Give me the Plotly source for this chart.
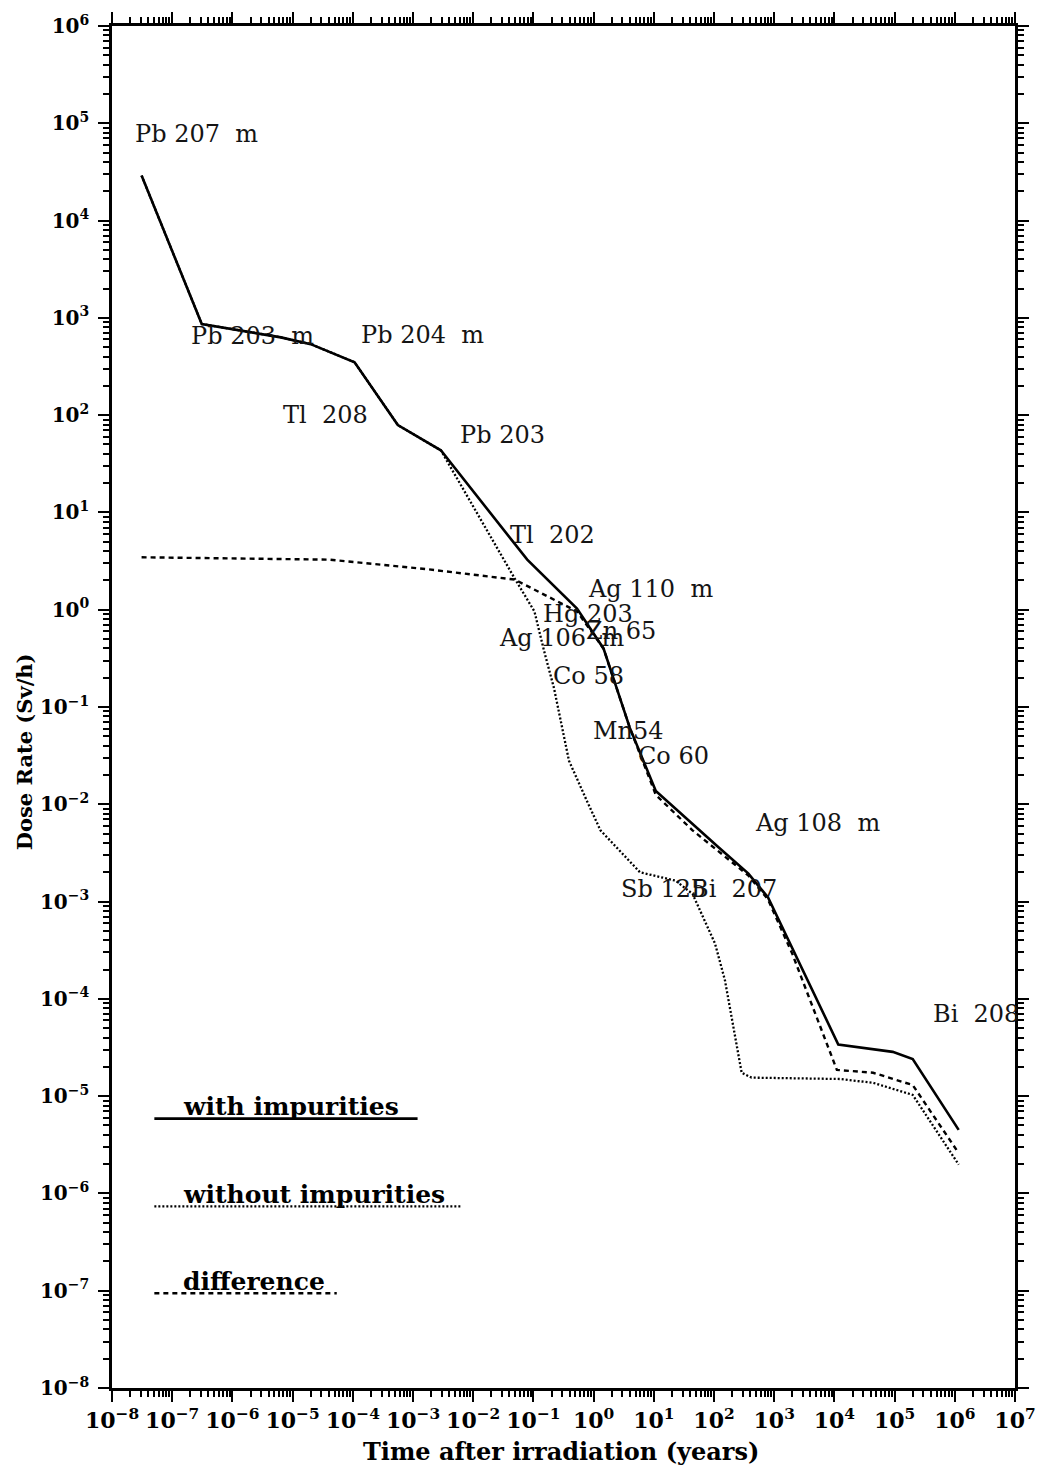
import plotly.graph_objects as go

# ---------------- data ----------------
t_with = [3.1e-8, 3.1e-7, 6.4e-6, 2.0e-5, 1.07e-4, 5.6e-4, 2.9e-3, 0.079, 0.53, 1.46,
          4.0, 10.8, 120, 373, 790, 1.16e4, 9.3e4, 2.0e5, 1.16e6]
v_with = [2.9e4, 865, 630, 537, 350, 79, 43.5, 3.27, 1.03, 0.40,
          0.061, 0.0137, 3.6e-3, 1.94e-3, 1.1e-3, 3.4e-5, 2.85e-5, 2.4e-5, 4.5e-6]

t_without = [3.1e-8, 3.1e-7, 6.4e-6, 2.0e-5, 1.07e-4, 5.6e-4, 2.9e-3, 8.9e-3, 0.049, 0.104,
             0.151, 0.22, 0.39, 0.77, 1.3, 5.9, 23, 44, 104, 152,
             288, 420, 1.25e4, 4.4e4, 2.0e5, 1.16e6]
v_without = [2.9e4, 865, 630, 537, 350, 79, 43.5, 12.9, 2.09, 0.96,
             0.374, 0.156, 0.028, 0.0109, 5.4e-3, 2.0e-3, 1.64e-3, 1.2e-3, 3.7e-4, 1.55e-4,
             1.74e-5, 1.55e-5, 1.5e-5, 1.37e-5, 1.03e-5, 1.98e-6]

t_diff = [3.1e-8, 4.2e-5, 1.8e-3, 0.049, 0.53, 1.46, 4.0, 10.8, 44, 120,
          373, 790, 2.0e3, 1.1e4, 4.4e4, 2.0e5, 1.16e6]
v_diff = [3.46, 3.27, 2.6, 2.04, 0.96, 0.40, 0.061, 0.0125, 5.4e-3, 3.3e-3,
          1.85e-3, 1.05e-3, 2.9e-4, 1.86e-5, 1.74e-5, 1.3e-5, 2.6e-6]

# nuclide labels: text, log10(time) of left edge, log10(dose) of centre
nuclide_text = ["Pb 207\u00a0\u00a0m", "Pb 203\u00a0\u00a0m", "Pb 204\u00a0\u00a0m", "Tl\u00a0\u00a0208",
                "Pb 203", "Tl\u00a0\u00a0202", "Ag 110\u00a0\u00a0m", "Hg 203", "Ag 106\u00a0\u00a0m",
                "Zn 65", "Co 58", "Mn54", "Co 60", "Ag 108\u00a0\u00a0m", "Sb 125", "Bi\u00a0\u00a0207",
                "Bi\u00a0\u00a0208"]
nuclide_logt = [-7.656, -6.721, -3.902, -5.197, -2.246, -1.426, -0.131, -0.869, -1.607,
                -0.164, -0.705, -0.049, 0.705, 2.656, 0.426, 1.590, 5.607]
nuclide_logv = [4.890, 2.810, 2.821, 2.001, 1.796, 0.772, 0.218, -0.048, -0.294,
                -0.222, -0.683, -1.247, -1.506, -2.193, -2.866, -2.866, -4.160]

x_exponents = list(range(-8, 8))
y_exponents = list(range(-8, 7))
legend_names = ["with impurities", "without impurities", "difference"]

FONT = "DejaVu Serif"
MINUS = "\u2212"


def pow_label(e):
    return "10<sup>" + (MINUS + str(-e) if e < 0 else str(e)) + "</sup>"


fig = go.Figure()
fig.add_trace(go.Scatter(x=t_with, y=v_with, mode="lines", name=legend_names[0],
                         line=dict(color="black", width=2.6)))
fig.add_trace(go.Scatter(x=t_without, y=v_without, mode="lines", name=legend_names[1],
                         line=dict(color="black", width=2.3, dash="2px,2px")))
fig.add_trace(go.Scatter(x=t_diff, y=v_diff, mode="lines", name=legend_names[2],
                         line=dict(color="black", width=2.4, dash="5px,4px")))

annotations = []
for txt, lx, ly in zip(nuclide_text, nuclide_logt, nuclide_logv):
    annotations.append(dict(x=lx, y=ly, xref="x", yref="y", text=txt, showarrow=False,
                            xanchor="left", yanchor="middle",
                            font=dict(family=FONT, size=24, color="#141414")))

# custom legend: text above a line sample (paper coordinates)
leg_text_y = [0.2065, 0.1421, 0.0783]
leg_line_y = [0.1978, 0.1333, 0.0696]
leg_line_x1 = [0.3384, 0.3876, 0.2489]
leg_dash = ["solid", "2px,2px", "5px,4px"]
leg_width = [2.6, 2.3, 2.4]
shapes = []
for name, ty, ly, x1, d, w in zip(legend_names, leg_text_y, leg_line_y, leg_line_x1, leg_dash, leg_width):
    annotations.append(dict(x=0.0764, y=ty, xref="paper", yref="paper", text="<b>" + name + "</b>",
                            showarrow=False, xanchor="left", yanchor="middle",
                            font=dict(family=FONT, size=25, color="black")))
    shapes.append(dict(type="line", xref="paper", yref="paper", x0=0.0469, x1=x1, y0=ly, y1=ly,
                       line=dict(color="black", width=w, dash=d)))

# axis titles
annotations.append(dict(x=0.497, y=-0.0469, xref="paper", yref="paper",
                        text="<b>Time after irradiation (years)</b>", showarrow=False,
                        xanchor="center", yanchor="middle",
                        font=dict(family=FONT, size=24, color="black")))
annotations.append(dict(x=-0.0960, y=0.467, xref="paper", yref="paper",
                        text="<b>Dose Rate (Sv/h)</b>", showarrow=False, textangle=-90,
                        xanchor="center", yanchor="middle",
                        font=dict(family=FONT, size=21, color="black")))

x_minor = [m * 10.0 ** e for e in x_exponents[:-1] for m in range(2, 10)]
y_minor = [m * 10.0 ** e for e in y_exponents[:-1] for m in range(2, 10)]

axis_common = dict(type="log", showgrid=False, zeroline=False, showline=True,
                   linecolor="black", linewidth=2.5, mirror="ticks",
                   ticks="outside", ticklen=11, tickwidth=2, tickcolor="black",
                   tickmode="array")

fig.update_layout(
    width=1048, height=1469,
    margin=dict(l=112, r=20, t=23, b=81),
    paper_bgcolor="white", plot_bgcolor="white",
    showlegend=False,
    xaxis=dict(range=[-8, 7], tickvals=[10.0 ** e for e in x_exponents],
               ticktext=[pow_label(e) for e in x_exponents],
               tickfont=dict(family=FONT, size=22, color="black", weight="bold"),
               minor=dict(tickmode="array", tickvals=x_minor, ticks="outside", ticklen=6,
                          tickwidth=1.5, tickcolor="black", showgrid=False),
               **axis_common),
    yaxis=dict(range=[-8, 6], tickvals=[10.0 ** e for e in y_exponents],
               ticktext=[pow_label(e) for e in y_exponents],
               tickfont=dict(family=FONT, size=20, color="black", weight="bold"),
               ticklabelstandoff=5,
               minor=dict(tickmode="array", tickvals=y_minor, ticks="outside", ticklen=6,
                          tickwidth=1.5, tickcolor="black", showgrid=False),
               **axis_common),
    annotations=annotations,
    shapes=shapes,
)

fig.write_html("out.html")
